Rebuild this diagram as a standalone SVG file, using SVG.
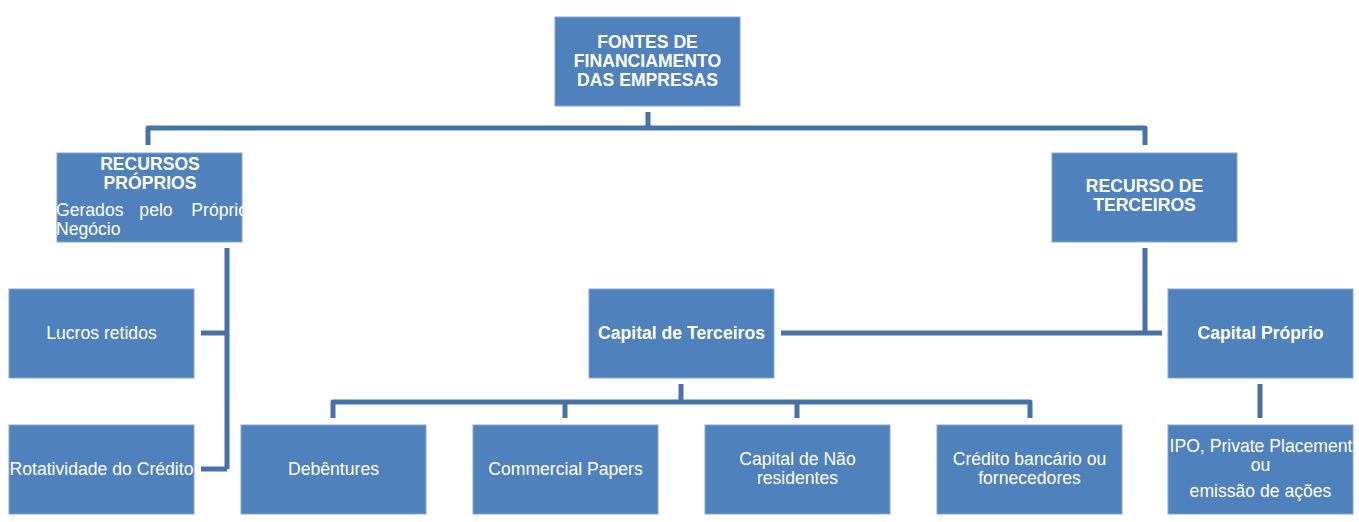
<svg xmlns="http://www.w3.org/2000/svg" width="1359" height="522" viewBox="0 0 1359 522">
<style>
.box{fill:#4F81BD;stroke:#86a7d2;stroke-width:1}
.t{font-family:"Liberation Sans",Arial,sans-serif;font-size:17.6px;fill:#fff;text-anchor:middle}
.b{font-weight:bold}
.c{fill:none;stroke:#4672A8;stroke-width:5;stroke-linecap:butt;stroke-linejoin:round}
</style>
<defs>
<clipPath id="clipRP"><rect x="56" y="152" width="187" height="91"/></clipPath>
<clipPath id="clipIPO"><rect x="1167" y="424" width="187" height="91"/></clipPath>
</defs>
<rect width="1359" height="522" fill="#fff"/>
<g id="connectors">
<path class="c" d="M648 112V128M148 145V128H1145V145"/>
<path class="c" d="M227 248V469M201 333H227M201 469H227"/>
<path class="c" d="M1145 248V333M781 333H1162"/>
<path class="c" d="M681 384V402M333 418V402H1030V418M565 402V418M797 402V418"/>
<path class="c" d="M1260 384V418"/>
</g>
<g id="n-fontes"><rect class="box" x="555" y="17" width="185" height="89"/>
<text class="t b" x="647.5" y="48">FONTES DE</text><text class="t b" x="647.5" y="67">FINANCIAMENTO</text><text class="t b" x="647.5" y="86">DAS EMPRESAS</text></g>
<g id="n-recursos-proprios"><rect class="box" x="57" y="153" width="185" height="89"/>
<text class="t b" x="150" y="170">RECURSOS</text><text class="t b" x="150" y="189">PRÓPRIOS</text>
<g clip-path="url(#clipRP)"><text class="t" x="56" y="216" style="text-anchor:start">Gerados</text><text class="t" x="156" y="216">pelo</text><text class="t" x="248" y="216" style="text-anchor:end">Próprio</text>
<text class="t" x="56" y="235" style="text-anchor:start">Negócio</text></g></g>
<g id="n-recurso-terceiros"><rect class="box" x="1052" y="153" width="185" height="89"/>
<text class="t b" x="1144.5" y="192">RECURSO DE</text><text class="t b" x="1144.5" y="211">TERCEIROS</text></g>
<g id="n-lucros"><rect class="box" x="9" y="289" width="185" height="89"/>
<text class="t" x="101.5" y="339">Lucros retidos</text></g>
<g id="n-rotatividade"><rect class="box" x="9" y="425" width="185" height="89"/>
<text class="t" x="101.5" y="475">Rotatividade do Crédito</text></g>
<g id="n-capital-terceiros"><rect class="box" x="589" y="289" width="185" height="89"/>
<text class="t b" x="681.5" y="339">Capital de Terceiros</text></g>
<g id="n-capital-proprio"><rect class="box" x="1168" y="289" width="185" height="89"/>
<text class="t b" x="1260.5" y="339">Capital Próprio</text></g>
<g id="n-debentures"><rect class="box" x="241" y="425" width="185" height="89"/>
<text class="t" x="333.5" y="475">Debêntures</text></g>
<g id="n-commercial"><rect class="box" x="473" y="425" width="185" height="89"/>
<text class="t" x="565.5" y="475">Commercial Papers</text></g>
<g id="n-nao-residentes"><rect class="box" x="705" y="425" width="185" height="89"/>
<text class="t" x="797.5" y="465">Capital de Não</text><text class="t" x="797.5" y="484">residentes</text></g>
<g id="n-credito"><rect class="box" x="937" y="425" width="185" height="89"/>
<text class="t" x="1029.5" y="465">Crédito bancário ou</text><text class="t" x="1029.5" y="484">fornecedores</text></g>
<g id="n-ipo"><rect class="box" x="1168" y="425" width="185" height="89"/>
<g clip-path="url(#clipIPO)"><text class="t" x="1261" y="452">IPO, Private Placement</text></g>
<text class="t" x="1260.5" y="471">ou</text><text class="t" x="1260.5" y="497">emissão de ações</text></g>
</svg>
